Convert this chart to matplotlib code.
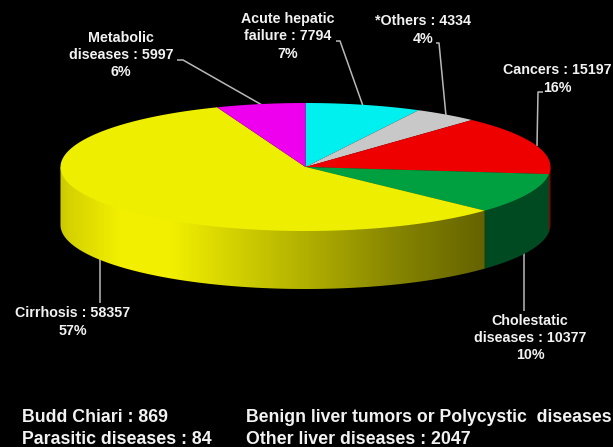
import matplotlib
matplotlib.use('Agg')
import matplotlib.pyplot as plt
from matplotlib.patches import Polygon
import numpy as np

# Liver disease counts, clockwise from 12 o'clock
categories = ['Acute hepatic failure', '*Others', 'Cancers', 'Cholestatic diseases',
              'Cirrhosis', 'Metabolic diseases']
counts = [7794, 4334, 15197, 10377, 58357, 5997]
percents = [7, 4, 16, 10, 57, 6]
top_colors = ['#00f0f0', '#c8c8c8', '#ee0000', '#00a040', '#eeee00', '#ee00ee']

footnotes = ['Budd Chiari : 869', 'Parasitic diseases : 84',
             'Benign liver tumors or Polycystic  diseases', 'Other liver diseases : 2047']

# Pie geometry in pixels
CX, CY = 305.5, 167.0
RX, RY = 245.0, 64.0
DEPTH = 58.0


def rim(t):
    # t in degrees clockwise from the top of the ellipse
    t = np.radians(t)
    return CX + RX * np.sin(t), CY - RY * np.cos(t)


def side_poly(t0, t1):
    # wall outline, closed through the centre so it runs under the top face
    x, y = rim(np.linspace(t0, t1, 200))
    wall = np.c_[x, y + DEPTH]
    return np.r_[[[x[0], y[0]]], wall, [[x[-1], y[-1]]], [[CX, CY]]]


fig = plt.figure(figsize=(6.13, 4.47), dpi=100, facecolor='black')
ax = fig.add_axes([0, 0, 1, 1])

edges = np.r_[0, np.cumsum(counts)] / sum(counts) * 360

# leader lines sit behind the pie
leaders = [
    ([177, 183, 262], [60, 60, 105]),
    ([336, 340, 363], [41, 41, 106]),
    ([436, 439, 446], [43, 43, 116]),
    ([543, 538, 537], [92, 92, 146]),
    ([100, 100], [250, 303]),
    ([524, 524], [250, 311]),
]
for lx, ly in leaders:
    ax.plot(lx, ly, color='#b8b8b8', lw=1.1, zorder=0.5, solid_capstyle='butt')

# front wall of the cylinder, only the visible lower half is needed
red_side = Polygon(side_poly(90, edges[3]), fc='#8a0000', ec='none', zorder=1)
ax.add_patch(red_side)
green_side = Polygon(side_poly(edges[3], edges[4]), fc='#004a22', ec='none', zorder=1)
ax.add_patch(green_side)

# yellow wall is shaded left to right
yellow_side = Polygon(side_poly(edges[4], 270), fc='none', ec='none', zorder=1)
ax.add_patch(yellow_side)
xs = np.linspace(55, 490, 436)
shade = np.interp(xs, [55, 70, 120, 170, 220, 307, 393, 480],
                  [0.82, 0.88, 1.0, 1.0, 0.90, 0.73, 0.56, 0.42])
grad = np.zeros((1, xs.size, 3))
grad[0, :, 0] = shade * 0.95
grad[0, :, 1] = shade * 0.94
img = ax.imshow(grad, extent=[55, 490, 300, 150], aspect='auto', zorder=1,
                interpolation='bilinear')
img.set_clip_path(yellow_side)

ax.set_xlim(0, 613)
ax.set_ylim(447, 0)
ax.axis('off')

# top face
for i, c in enumerate(top_colors):
    x, y = rim(np.linspace(edges[i], edges[i + 1], 120))
    pts = np.r_[[[CX, CY]], np.c_[x, y]]
    ax.add_patch(Polygon(pts, fc=c, ec='none', zorder=2))

label_style = dict(color='#f2f2f2', fontsize=10.3, fontweight='bold', family='Liberation Sans',
                   ha='center', va='center', linespacing=1.28)
ax.text(288, 36.5, 'Acute hepatic\nfailure : %d\n%d%%' % (counts[0], percents[0]), **label_style)
ax.text(423, 30, '%s : %d\n%d%%' % (categories[1], counts[1], percents[1]), **label_style)
ax.text(557, 79, '%s : %d\n%d%%' % (categories[2], counts[2], percents[2]), **label_style)
ax.text(530, 338, 'Cholestatic\ndiseases : %d\n%d%%' % (counts[3], percents[3]), **label_style)
ax.text(73, 322, '%s : %d\n%d%%' % (categories[4], counts[4], percents[4]), **label_style)
ax.text(121, 55, 'Metabolic\ndiseases : %d\n%d%%' % (counts[5], percents[5]), **label_style)

foot_style = dict(color='#f2f2f2', fontweight='bold', family='Liberation Sans',
                  ha='left', va='center')
ax.text(22, 417, footnotes[0], fontsize=12.8, **foot_style)
ax.text(22, 439, footnotes[1], fontsize=12.8, **foot_style)
ax.text(246, 417, footnotes[2], fontsize=12.7, **foot_style)
ax.text(246, 439, footnotes[3], fontsize=12.8, **foot_style)

fig.savefig('out.png', dpi=100, facecolor='black')
